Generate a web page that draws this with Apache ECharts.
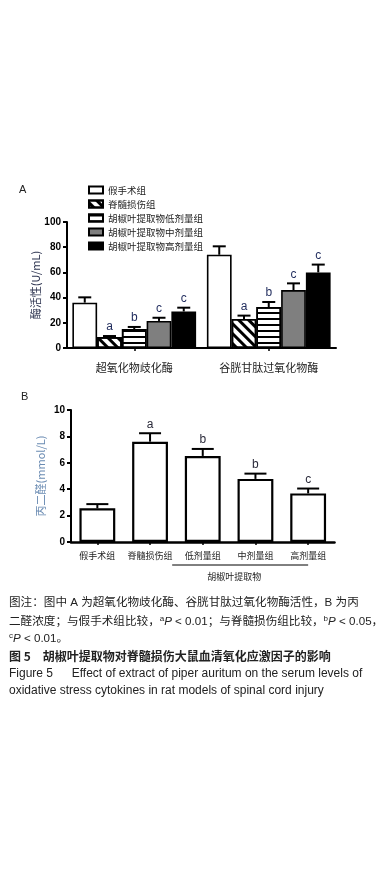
<!DOCTYPE html>
<html><head><meta charset="utf-8">
<script src="https://cdn.jsdelivr.net/npm/echarts@6/dist/echarts.min.js"></script>
<style>html,body{margin:0;padding:0;background:#fff}#c{width:388px;height:874px}</style>
</head><body><div id="c"></div>
<script>
// ---------- data ----------
const groupsA = ['超氧化物歧化酶', '谷胱甘肽过氧化物酶'];
const seriesNamesA = ['假手术组', '脊髓损伤组', '胡椒叶提取物低剂量组', '胡椒叶提取物中剂量组', '胡椒叶提取物高剂量组'];
const shamA = [36, 74];
const injuryA = [8.7, 23];
const lowA = [15, 32.5];
const midA = [21.5, 46];
const highA = [29, 60];
const errShamA = [4.2, 6.7];
const errInjuryA = [0.8, 2.7];
const errLowA = [1.7, 4];
const errMidA = [2.5, 5.3];
const errHighA = [3, 6.2];
const lettersInjuryA = ['a', 'a'];
const lettersLowA = ['b', 'b'];
const lettersMidA = ['c', 'c'];
const lettersHighA = ['c', 'c'];
const yTicksA = [0, 20, 40, 60, 80, 100];

const categoriesB = ['假手术组', '脊髓损伤组', '低剂量组', '中剂量组', '高剂量组'];
const valuesB = [2.55, 7.6, 6.52, 4.78, 3.68];
const errorsB = [0.32, 0.64, 0.53, 0.4, 0.37];
const lettersB = ['', 'a', 'b', 'b', 'c'];
const yTicksB = [0, 2, 4, 6, 8, 10];

// ---------- build ----------
const LAT = '"Liberation Sans", Arial, "Noto Sans CJK SC", sans-serif';
const CJK = '"Noto Sans CJK SC", "Liberation Sans", sans-serif';
const GAP_A = 0.08, GAP_B = 0.32;

const valsA = [shamA, injuryA, lowA, midA, highA];
const errsA = [errShamA, errInjuryA, errLowA, errMidA, errHighA];
const letsA = [['', ''], lettersInjuryA, lettersLowA, lettersMidA, lettersHighA];

const styleA = [
  {color: '#fff', borderColor: '#000', borderWidth: 1.6},
  {color: '#fff', borderColor: '#000', borderWidth: 1.6,
   decal: {symbol: 'rect', color: '#000', dashArrayX: [1, 0], dashArrayY: [3, 4], rotation: Math.PI / 4}},
  {color: '#fff', borderColor: '#000', borderWidth: 1.6,
   decal: {symbol: 'rect', color: '#000', dashArrayX: [1, 0], dashArrayY: [1.6, 3.4], rotation: 0}},
  {color: '#7f7f7f', borderColor: '#000', borderWidth: 1.6},
  {color: '#000', borderColor: '#000', borderWidth: 1.6}
];

function errRender(nBars, gap, idx, capW, letters, letterColor) {
  return function (params, api) {
    const cat = api.value(0), v = api.value(1), e = api.value(2);
    const base = api.coord([cat, v]);
    const top = api.coord([cat, v + e]);
    const catW = api.size([1, 0])[0];
    const groupW = catW * (1 - gap);
    const bw = groupW / nBars;
    const x = base[0] - groupW / 2 + bw * (idx + 0.5);
    const ls = {stroke: '#000', lineWidth: 2};
    const children = [
      {type: 'line', shape: {x1: x, y1: base[1], x2: x, y2: top[1]}, style: ls},
      {type: 'line', shape: {x1: x - capW / 2, y1: top[1], x2: x + capW / 2, y2: top[1]}, style: ls}
    ];
    const L = letters[params.dataIndex];
    if (L) children.push({type: 'text', x: x, y: top[1] - 3,
      style: {text: L, fill: letterColor, font: '12px ' + LAT, textAlign: 'center', textVerticalAlign: 'bottom'}});
    return {type: 'group', children: children};
  };
}

const series = [];
seriesNamesA.forEach((name, i) => {
  series.push({name: name, type: 'bar', xAxisIndex: 0, yAxisIndex: 0, barGap: '0%', barCategoryGap: (GAP_A * 100) + '%',
    data: valsA[i], itemStyle: styleA[i], emphasis: {disabled: true}, silent: true});
});
seriesNamesA.forEach((name, i) => {
  series.push({type: 'custom', xAxisIndex: 0, yAxisIndex: 0, z: 5, silent: true,
    data: valsA[i].map((v, k) => [k, v, errsA[i][k]]),
    renderItem: errRender(5, GAP_A, i, 13, letsA[i], '#1e2a5c')});
});
series.push({type: 'bar', xAxisIndex: 1, yAxisIndex: 1, barCategoryGap: (GAP_B * 100) + '%', data: valuesB,
  itemStyle: {color: '#fff', borderColor: '#000', borderWidth: 2.2}, silent: true});
series.push({type: 'custom', xAxisIndex: 1, yAxisIndex: 1, z: 5, silent: true,
  data: valuesB.map((v, k) => [k, v, errorsB[k]]),
  renderItem: errRender(1, GAP_B, 0, 22, lettersB, '#2a2a3a')});

const axisLineS = {show: true, lineStyle: {color: '#000', width: 2}};
function yAxis(idx, ticks, name, nameColor, nameGap) {
  return {type: 'value', gridIndex: idx, min: ticks[0], max: ticks[ticks.length - 1], interval: ticks[1] - ticks[0],
    name: name, nameLocation: 'middle', nameRotate: 90, nameGap: nameGap, nameMoveOverlap: false,
    nameTextStyle: {color: nameColor, fontSize: 11, fontFamily: CJK},
    axisLine: axisLineS, axisTick: {show: true, inside: false, length: 4, lineStyle: {color: '#000', width: 2}},
    splitLine: {show: false},
    axisLabel: {color: '#000', fontSize: 10, fontWeight: 'bold', fontFamily: LAT, margin: 6}};
}

const option = {
  backgroundColor: '#fff',
  animation: false,
  grid: [
    {left: 67, top: 222, width: 269, height: 126},
    {left: 71, top: 410, width: 263.5, height: 132}
  ],
  legend: {data: seriesNamesA, orient: 'vertical', left: 88, top: 185, padding: 0, itemWidth: 14, itemHeight: 7, itemGap: 4,
    selectedMode: false, icon: 'rect',
    textStyle: {fontSize: 9.5, color: '#222', fontFamily: CJK, lineHeight: 10}},
  xAxis: [
    {type: 'category', gridIndex: 0, data: groupsA, axisLine: axisLineS,
     axisTick: {show: true, alignWithLabel: true, length: 3, lineStyle: {color: '#000', width: 1.5}},
     axisLabel: {color: '#222', fontSize: 11, fontFamily: CJK, margin: 14, interval: 0}},
    {type: 'category', gridIndex: 1, data: categoriesB, axisLine: {show: true, lineStyle: {color: '#000', width: 2.5}},
     axisTick: {show: true, alignWithLabel: true, length: 3, lineStyle: {color: '#000', width: 1.5}},
     axisLabel: {color: '#222', fontSize: 9, fontFamily: CJK, margin: 9, interval: 0}}
  ],
  yAxis: [
    yAxis(0, yTicksA, '酶活性(U/mL)', '#2d3450', 26),
    yAxis(1, yTicksB, '丙二醛(mmol/L)', '#6b8cb3', 25)
  ],
  series: series
};

const chart = echarts.init(document.getElementById('c'), null, {renderer: 'canvas'});
chart.setOption(option);

// annotations
const c2 = chart.convertToPixel({xAxisIndex: 1}, 2);
const c4 = chart.convertToPixel({xAxisIndex: 1}, 4);
const catWB = c4 - chart.convertToPixel({xAxisIndex: 1}, 3);
const axisYB = chart.convertToPixel({yAxisIndex: 1}, 0);
const bx1 = c2 - catWB * 0.58, bx2 = c4;
const capFont = '11.6px ' + CJK;
const rich = {
  t: {fontSize: 11.6, fontFamily: '"Liberation Sans", "Noto Sans CJK SC", sans-serif', color: '#222'},
  s: {fontSize: 8, fontFamily: LAT, color: '#222', verticalAlign: 'top', padding: [0, 0, 6, 0]},
  i: {fontSize: 11.6, fontFamily: LAT, fontStyle: 'italic', color: '#222'}
};
const capLines = [
  '{t|图注：图中 A 为超氧化物歧化酶、谷胱甘肽过氧化物酶活性，B 为丙}',
  '{t|二醛浓度；与假手术组比较，}{s|a}{i|P}{t| < 0.01；与脊髓损伤组比较，}{s|b}{i|P}{t| < 0.05，}',
  '{s|c}{i|P}{t| < 0.01。}'
];
const graphics = [
  {type: 'text', left: 19, top: 184, style: {text: 'A', font: '11px ' + LAT, fill: '#222'}},
  {type: 'text', left: 21, top: 391, style: {text: 'B', font: '11px ' + LAT, fill: '#222'}},
  {type: 'line', shape: {x1: bx1, y1: axisYB + 23, x2: bx2, y2: axisYB + 23}, style: {stroke: '#000', lineWidth: 1}},
  {type: 'text', x: (bx1 + bx2) / 2 - 6, y: axisYB + 35,
   style: {text: '胡椒叶提取物', font: '9px ' + CJK, fill: '#222', textAlign: 'center', textVerticalAlign: 'middle'}}
];
capLines.forEach((s, k) => {
  graphics.push({type: 'text', left: 9, top: 597 + k * 17.5, style: {text: s, rich: rich, font: capFont, fill: '#222'}});
});
graphics.push({type: 'text', left: 9, top: 650, style: {text: '图 5　胡椒叶提取物对脊髓损伤大鼠血清氧化应激因子的影响',
  font: 'bold 12px ' + CJK, fill: '#222'}});
graphics.push({type: 'text', left: 9, top: 668, style: {text: 'Figure 5\u3000  Effect of extract of piper auritum on the serum levels of',
  font: '12px ' + LAT, fill: '#222'}});
graphics.push({type: 'text', left: 9, top: 685, style: {text: 'oxidative stress cytokines in rat models of spinal cord injury',
  font: '12px ' + LAT, fill: '#222'}});
chart.setOption({graphic: graphics});
</script>
</body></html>
